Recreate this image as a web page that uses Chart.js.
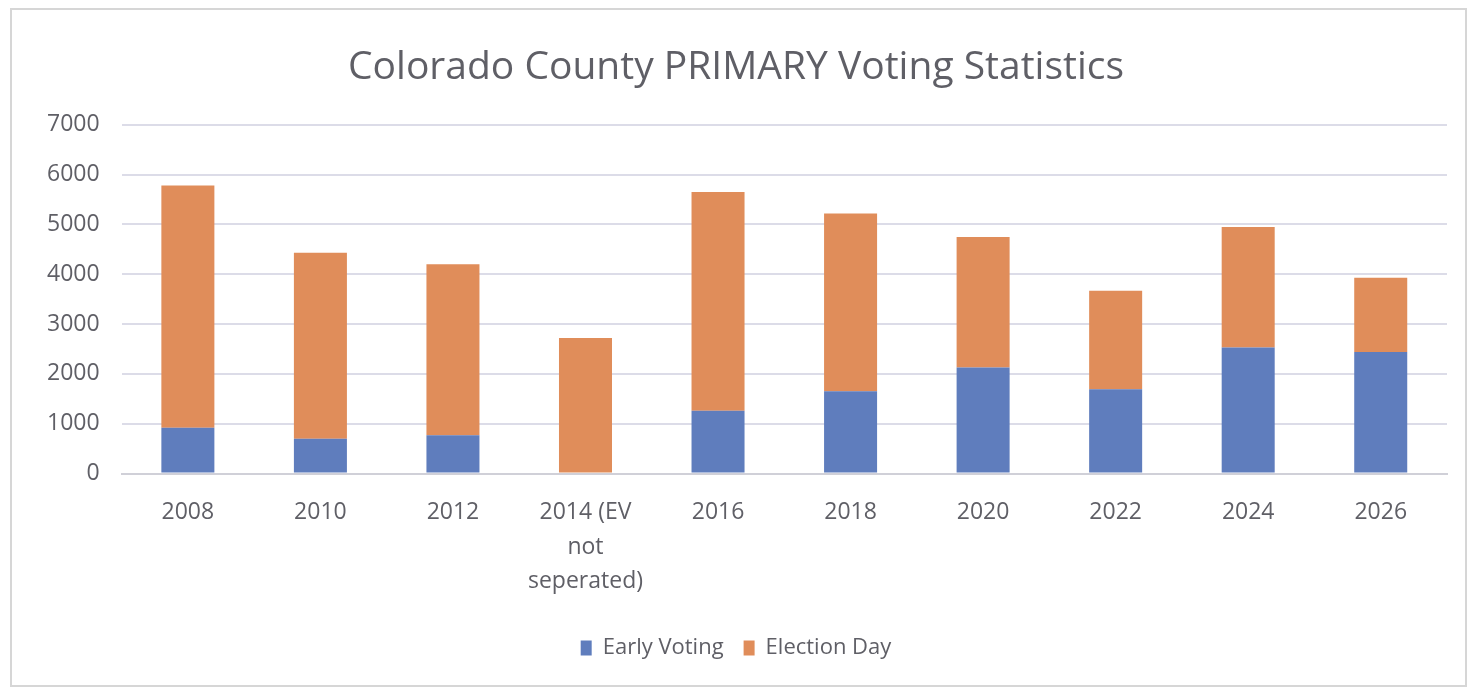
<!DOCTYPE html>
<html>
<head>
<meta charset="utf-8">
<script src="https://cdn.jsdelivr.net/npm/chart.js@4/dist/chart.umd.min.js"></script>
<style>
  html, body { margin: 0; padding: 0; background: #fff; }
  #wrap { position: relative; width: 1471px; height: 692px; }
  #frame { position: absolute; left: 10px; top: 8px; width: 1453px; height: 675px;
           border: 2px solid #d6d6d6; pointer-events: none; }
</style>
</head>
<body>
<div id="wrap">
  <canvas id="myChart" width="1471" height="692"></canvas>
  <div id="frame"></div>
</div>
<script>
// valores
const years = ['2008', '2010', '2012', ['2014 (EV', 'not', 'seperated)'], '2016', '2018', '2020', '2022', '2024', '2026'];
const earlyVoting = [920, 700, 770, 0, 1260, 1650, 2130, 1690, 2530, 2440];
const electionDay = [4860, 3730, 3430, 2720, 4390, 3570, 2620, 1980, 2420, 1490];
const yTicks = [0, 1000, 2000, 3000, 4000, 5000, 6000, 7000];

const textGrey = '#5f5f66';
const fuente = 'Open Sans';

const datos = {
  labels: years,
  datasets: [{
    label: 'Early Voting',
    data: earlyVoting,
    backgroundColor: '#5f7dbd',
    barPercentage: 0.8,
    categoryPercentage: 0.5
  }, {
    label: 'Election Day',
    data: electionDay,
    backgroundColor: '#e08d5a',
    barPercentage: 0.8,
    categoryPercentage: 0.5
  }]
};

const config = {
  type: 'bar',
  data: datos,
  options: {
    responsive: false,
    animation: false,
    layout: { padding: { left: 25, right: 24, top: 0, bottom: 23 } },
    plugins: {
      title: {
        display: true,
        text: 'Colorado County PRIMARY Voting Statistics',
        color: textGrey,
        font: { family: fuente, size: 39, weight: 'normal' },
        padding: { top: 44, bottom: 34 }
      },
      legend: {
        position: 'bottom',
        labels: {
          color: textGrey,
          font: { family: fuente, size: 22 },
          boxWidth: 11,
          boxHeight: 15,
          padding: 20
        }
      },
      tooltip: { enabled: false }
    },
    scales: {
      x: {
        stacked: true,
        grid: { display: false },
        border: { color: '#d0d0d8', width: 2 },
        afterFit: axis => { axis.height += 4; },
        ticks: {
          color: textGrey,
          font: { family: fuente, size: 23, lineHeight: 1.5 },
          maxRotation: 0,
          padding: 14
        }
      },
      y: {
        stacked: true,
        min: 0,
        max: 7000,
        afterBuildTicks: axis => { axis.ticks = yTicks.map(v => ({ value: v })); },
        grid: { color: '#dcdce8', lineWidth: 2, drawTicks: false },
        border: { display: false },
        ticks: {
          color: textGrey,
          font: { family: fuente, size: 23 },
          padding: 22,
          callback: v => String(v)
        }
      }
    }
  }
};

var myChart = new Chart(document.getElementById('myChart'), config);
</script>
</body>
</html>
